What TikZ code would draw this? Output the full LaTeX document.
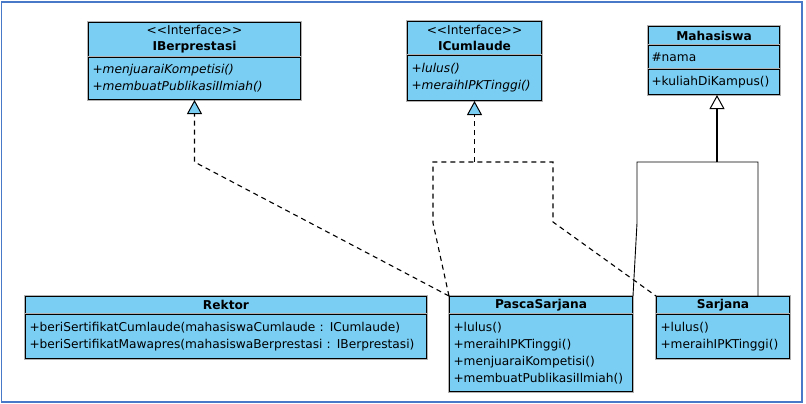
\documentclass[tikz,border=0pt]{standalone}
\usepackage{fontspec}
\newfontfamily\umlfont{DejaVu Sans}
\usetikzlibrary{arrows.meta}

\definecolor{umlblue}{RGB}{122,206,244}
\definecolor{frameblue}{RGB}{72,120,200}

\tikzset{
  umlbox/.style={draw=black, line width=1pt, fill=umlblue, anchor=north west,
    preaction={draw=black!30, line width=2.6pt},
    font=\umlfont\fontsize{12.2}{17.2}\selectfont},
  umlhead/.style={umlbox, inner sep=0pt, align=center},
  umlname/.style={umlhead, font=\umlfont\bfseries\fontsize{12.2}{17.2}\selectfont},
  umlbody/.style={umlbox, inner xsep=4pt, inner ysep=0pt, align=left},
  realize/.style={dash pattern=on 5pt off 4pt, line width=1.1pt},
  realtip/.style={-{Triangle[length=14pt,width=15pt,fill=umlblue,line width=1pt]}},
  inherit/.style={line width=0.9pt},
  inhertip/.style={line width=1.6pt, -{Triangle[length=14pt,width=15pt,fill=white,line width=1pt]}}
}

\begin{document}
\begin{tikzpicture}[x=1pt,y=-1pt]
  \useasboundingbox (0,0) rectangle (806,404);
  \draw[frameblue, line width=1.3pt] (1.5,2) rectangle (802,402);

  % interfaces
  \node[umlhead, minimum width=212, minimum height=34, font=\umlfont\fontsize{12.2}{16.2}\selectfont] (iber) at (88,22)
    {<{}<Interface>{}>\\\textbf{IBerprestasi}};
  \node[umlbody, minimum height=42, text width=204] (iberB) at (iber.south west)
    {\itshape +menjuaraiKompetisi()\\\itshape +membuatPublikasiIlmiah()};

  \node[umlhead, minimum width=134, minimum height=33, font=\umlfont\fontsize{12.2}{16.2}\selectfont] (icum) at (407,21)
    {<{}<Interface>{}>\\\textbf{ICumlaude}};
  \node[umlbody, minimum height=45, text width=126] (icumB) at (icum.south west)
    {\itshape +lulus()\\\itshape +meraihIPKTinggi()};

  % superclass
  \node[umlname, minimum width=131, minimum height=18] (mhs) at (648,26) {Mahasiswa};
  \node[umlbody, minimum height=23, text width=125, inner xsep=3pt] (mhsA) at (mhs.south west) {\#nama};
  \node[umlbody, minimum height=25, text width=125, inner xsep=3pt] (mhsM) at (mhsA.south west) {+kuliahDiKampus()};

  % classes
  \node[umlname, minimum width=401, minimum height=17] (rektor) at (25,296) {Rektor};
  \node[umlbody, minimum height=44, text width=393] (rektorB) at (rektor.south west)
    {+beriSertifikatCumlaude(mahasiswaCumlaude : ICumlaude)\\
     +beriSertifikatMawapres(mahasiswaBerprestasi : IBerprestasi)};

  \node[umlname, minimum width=183, minimum height=17] (pasca) at (449,296) {PascaSarjana};
  \node[umlbody, minimum height=77, text width=175] (pascaB) at (pasca.south west)
    {+lulus()\\+meraihIPKTinggi()\\+menjuaraiKompetisi()\\+membuatPublikasiIlmiah()};

  \node[umlname, minimum width=133, minimum height=17] (sarjana) at (656,296) {Sarjana};
  \node[umlbody, minimum height=44, text width=125] (sarjanaB) at (sarjana.south west)
    {+lulus()\\+meraihIPKTinggi()};

  % realization IBerprestasi
  \coordinate (berbend) at (iberB.south |- 0,162);
  \draw[realize, realtip] (pasca.north west) -- (berbend) -- (iberB.south);

  % realization ICumlaude
  \coordinate (cumjoin) at (icumB.south |- 0,162);
  \coordinate (cumL) at (433,162);
  \coordinate (cumLk) at (433,223);
  \coordinate (cumR) at (553,162);
  \coordinate (cumRk) at (553,222);
  \draw[realize] (pasca.north west) -- (cumLk) -- (cumL) -- (cumR) -- (cumRk) -- (sarjana.north west);
  \draw[realize, realtip] (cumjoin) -- (icumB.south);

  % generalization Mahasiswa
  \coordinate (genjoin) at (717,162);
  \coordinate (genL) at (637,162);
  \coordinate (genLk) at (637,223);
  \coordinate (genR) at (758,162);
  \draw[inherit] (pasca.north east) -- (genLk) -- (genL) -- (genR) -- (genR |- sarjana.north);
  \draw[inhertip] (genjoin) -- (genjoin |- mhsM.south);
\end{tikzpicture}
\end{document}
